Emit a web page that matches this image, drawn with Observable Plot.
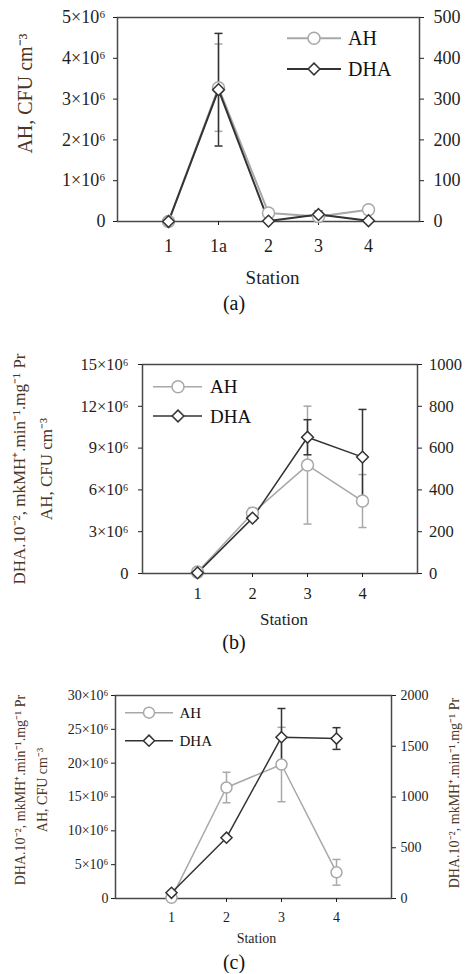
<!DOCTYPE html>
<html><head><meta charset="utf-8">
<script src="https://cdn.jsdelivr.net/npm/d3@7"></script>
<script src="https://cdn.jsdelivr.net/npm/@observablehq/plot@0.6"></script>
<style>
body{margin:0;background:#fff;width:468px;font-family:"Liberation Serif",serif;}
.cap{text-align:center;font-size:20px;height:22px;line-height:22px;color:#111;width:468px}
svg{display:block}
svg text{font-family:"Liberation Serif","Times New Roman",serif !important;}
</style></head><body><div id="app"></div><script>
// ---- Panel (a)
const stationsA = ["1", "1a", "2", "3", "4"];
const ahA = [0, 3.28e6, 0.21e6, 0.12e6, 0.29e6];
const ahErrA = [0, 1.07e6, 0, 0, 0];
const dhaA = [0, 323, 1, 17, 2];
const dhaErrA = [0, 138, 0, 9, 0];
const leftTicksA = [0, 1e6, 2e6, 3e6, 4e6, 5e6];
const rightTicksA = [0, 100, 200, 300, 400, 500];

// ---- Panel (b)
const stationsB = ["1", "2", "3", "4"];
const ahB = [0.1e6, 4.33e6, 7.78e6, 5.2e6];
const ahErrB = [0, 0.4e6, 4.23e6, 1.9e6];
const dhaB = [3, 265, 652, 557];
const dhaErrB = [0, 12, 84, 228];
const leftTicksB = [0, 3e6, 6e6, 9e6, 12e6, 15e6];
const rightTicksB = [0, 200, 400, 600, 800, 1000];

// ---- Panel (c)
const stationsC = ["1", "2", "3", "4"];
const ahC = [0.1e6, 16.4e6, 19.8e6, 3.87e6];
const ahErrC = [0, 2.25e6, 5.5e6, 1.9e6];
const dhaC = [56, 599, 1589, 1576];
const dhaErrC = [0, 0, 283, 107];
const leftTicksC = [0, 5e6, 10e6, 15e6, 20e6, 25e6, 30e6];
const rightTicksC = [0, 500, 1000, 1500, 2000];

const legendLabels = ["AH", "DHA"];
const titleAH = "AH, CFU cm\u207B\u00B3";
const titleDHA = "DHA.10\u207B\u00B2, mkMH\u207A.min\u207B\u00B9.mg\u207B\u00B9 Pr";
const xLabel = "Station";
const captions = ["(a)", "(b)", "(c)"];

const FONT = "Liberation Serif";
const AHC = "#a8a8a8";
const DHAC = "#333333";
const TXT = "#1e1e1e";
const BROWN = "#4a3526";

const cap = { draw(ctx) { ctx.moveTo(-4, 0); ctx.lineTo(4, 0); } };
const fmtE6 = d => d === 0 ? "0" : `${d / 1e6}\u00D710\u2076`;

function panel(c) {
  const rows = c.stations.map((s, i) => ({
    station: s, ah: c.ah[i], ahErr: c.ahErr[i], dha: c.dha[i], dhaErr: c.dhaErr[i]
  }));
  const k = c.yMax / c.rMax;
  const ahE = rows.filter(d => d.ahErr > 0);
  const dhE = rows.filter(d => d.dhaErr > 0);
  const marks = [
    Plot.frame({ stroke: "#484848", strokeWidth: 1.5 }),
    Plot.axisY(c.leftTicks, { anchor: "left", tickFormat: fmtE6, tickSize: 4, tickPadding: c.lp, fontSize: c.tf, color: TXT, label: null }),
    Plot.axisY(c.rightTicks.map(v => v * k), { anchor: "right", tickFormat: d => String(Math.round(d / k)), tickSize: 4, tickPadding: c.rp, fontSize: c.tf, color: TXT, label: null }),
    Plot.axisX({ anchor: "bottom", tickSize: 4, tickPadding: c.xp, fontSize: c.tf, color: TXT, label: null }),
    // AH error bars
    Plot.ruleX(ahE, { x: "station", y1: d => d.ah - d.ahErr, y2: d => d.ah + d.ahErr, stroke: AHC, strokeWidth: 1.5 }),
    Plot.dot(ahE, { x: "station", y: d => d.ah + d.ahErr, symbol: cap, stroke: AHC, strokeWidth: 1.5, fill: "none" }),
    Plot.dot(ahE, { x: "station", y: d => d.ah - d.ahErr, symbol: cap, stroke: AHC, strokeWidth: 1.5, fill: "none" }),
    // DHA error bars
    Plot.ruleX(dhE, { x: "station", y1: d => (d.dha - d.dhaErr) * k, y2: d => (d.dha + d.dhaErr) * k, stroke: DHAC, strokeWidth: 1.5 }),
    Plot.dot(dhE, { x: "station", y: d => (d.dha + d.dhaErr) * k, symbol: cap, stroke: DHAC, strokeWidth: 1.5, fill: "none" }),
    Plot.dot(dhE, { x: "station", y: d => (d.dha - d.dhaErr) * k, symbol: cap, stroke: DHAC, strokeWidth: 1.5, fill: "none" }),
    // lines
    Plot.line(rows, { x: "station", y: "ah", stroke: AHC, strokeWidth: c.lw }),
    Plot.line(rows, { x: "station", y: d => d.dha * k, stroke: DHAC, strokeWidth: c.lw }),
    Plot.dot(rows, { x: "station", y: "ah", r: c.cr, symbol: "circle", fill: "white", stroke: AHC, strokeWidth: 1.5 }),
    Plot.dot(rows, { x: "station", y: d => d.dha * k, r: c.dr, symbol: "diamond2", fill: "white", stroke: DHAC, strokeWidth: 1.5 }),
    // x label
    Plot.text([xLabel], { frameAnchor: "bottom", textAnchor: "middle", lineAnchor: "middle", dx: c.sx, dy: c.sy, fontSize: c.sf, fill: TXT }),
  ];
  c.titles.forEach(t => marks.push(
    Plot.text([t.text], { frameAnchor: t.anchor, rotate: -90, textAnchor: "middle", lineAnchor: "middle", dx: t.dx, dy: t.dy, fontSize: t.fs, fill: BROWN })
  ));
  const svg = Plot.plot({
    width: 468, height: c.height,
    marginTop: c.mt, marginBottom: c.mb, marginLeft: c.ml, marginRight: c.mr,
    style: { fontFamily: "'Liberation Serif', serif", fontSize: c.tf + "px", color: TXT, background: "white", overflow: "visible" },
    x: { type: "point", domain: c.stations, padding: 1 },
    y: { domain: [0, c.yMax] },
    marks
  });
  // legend (inside frame)
  const L = c.legend;
  const g = d3.select(svg).append("g").attr("font-size", L.fs).attr("text-anchor", "start");
  const items = [
    { label: legendLabels[0], y: L.y1, color: AHC, sym: d3.symbolCircle, size: Math.PI * c.cr * c.cr },
    { label: legendLabels[1], y: L.y2, color: DHAC, sym: d3.symbolDiamond2, size: Math.PI * c.dr * c.dr }
  ];
  items.forEach(it => {
    g.append("line").attr("x1", L.x1).attr("x2", L.x2).attr("y1", it.y).attr("y2", it.y)
      .attr("stroke", it.color).attr("stroke-width", c.lw);
    g.append("path").attr("d", d3.symbol(it.sym, it.size)()).attr("transform", `translate(${L.cx},${it.y})`)
      .attr("fill", "white").attr("stroke", it.color).attr("stroke-width", 1.5);
    g.append("text").attr("x", L.tx).attr("y", it.y).attr("dy", "0.35em").attr("text-anchor", "start")
      .attr("fill", "#111").text(it.label);
  });
  return svg;
}

const app = document.getElementById("app");
function addCaption(t) {
  const d = document.createElement("div"); d.className = "cap"; d.textContent = t; app.appendChild(d);
}

app.appendChild(panel({
  stations: stationsA, ah: ahA, ahErr: ahErrA, dha: dhaA, dhaErr: dhaErrA,
  leftTicks: leftTicksA, rightTicks: rightTicksA, yMax: 5e6, rMax: 500,
  height: 292, mt: 17, mb: 71, ml: 117, mr: 49,
  tf: 18, lp: 8, rp: 10, xp: 14, lw: 2, cr: 6, dr: 5.3,
  sx: 4, sy: 56, sf: 19,
  titles: [{ text: titleAH, anchor: "left", dx: -92, dy: -26, fs: 20 }],
  legend: { x1: 287, x2: 341, cx: 314, tx: 348, y1: 38.3, y2: 69, fs: 20 }
}));
addCaption(captions[0]);

app.appendChild(panel({
  stations: stationsB, ah: ahB, ahErr: ahErrB, dha: dhaB, dhaErr: dhaErrB,
  leftTicks: leftTicksB, rightTicks: rightTicksB, yMax: 15e6, rMax: 1000,
  height: 317, mt: 50, mb: 58, ml: 142, mr: 51,
  tf: 16.5, lp: 10, rp: 7.5, xp: 10, lw: 1.5, cr: 6, dr: 5.3,
  sx: 4, sy: 46, sf: 17,
  titles: [
    { text: titleDHA, anchor: "left", dx: -123, dy: 0, fs: 17 },
    { text: titleAH, anchor: "left", dx: -96, dy: 0, fs: 17 }
  ],
  legend: { x1: 153, x2: 202, cx: 178, tx: 210, y1: 72.7, y2: 102, fs: 19 }
}));
addCaption(captions[1]);

app.appendChild(panel({
  stations: stationsC, ah: ahC, ahErr: ahErrC, dha: dhaC, dhaErr: dhaErrC,
  leftTicks: leftTicksC, rightTicks: rightTicksC, yMax: 30e6, rMax: 2000,
  height: 298, mt: 42, mb: 53, ml: 115, mr: 77,
  tf: 14, lp: 3, rp: 5, xp: 9.5, lw: 1.5, cr: 5.5, dr: 5,
  sx: 3, sy: 40, sf: 14,
  titles: [
    { text: titleDHA, anchor: "left", dx: -94.5, dy: -7, fs: 14 },
    { text: titleAH, anchor: "left", dx: -72.5, dy: -7, fs: 14 },
    { text: titleDHA, anchor: "right", dx: 63, dy: -4, fs: 14 }
  ],
  legend: { x1: 125, x2: 173, cx: 149, tx: 179.5, y1: 59.7, y2: 87.7, fs: 15 }
}));
addCaption(captions[2]);
</script></body></html>
